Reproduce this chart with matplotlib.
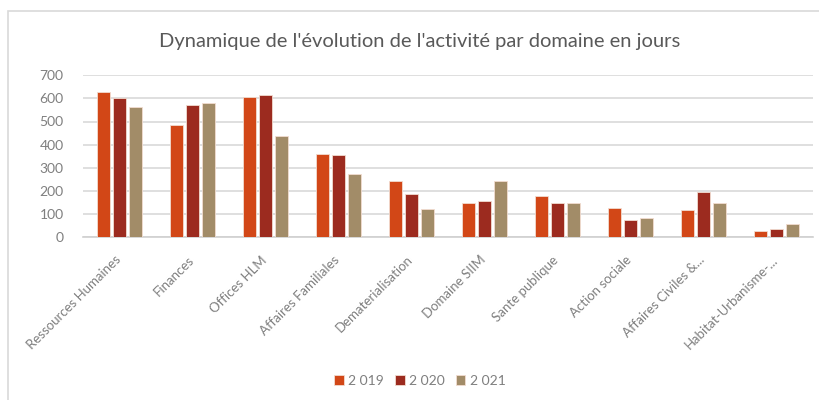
import matplotlib
matplotlib.use("Agg")
import matplotlib.pyplot as plt
import matplotlib.transforms as mtransforms
import numpy as np
from matplotlib.patches import Rectangle

categories = ["Ressources Humaines", "Finances", "Offices HLM", "Affaires Familiales",
              "Dematerialisation", "Domaine SIIM", "Sante publique", "Action sociale",
              "Affaires Civiles &...", "Habitat-Urbanisme-..."]
v2019 = [628, 483, 607, 360, 242, 148, 177, 127, 115, 26]
v2020 = [602, 571, 615, 357, 184, 158, 148, 72, 195, 33]
v2021 = [562, 579, 437, 272, 120, 242, 148, 81, 148, 58]
series_names = ["2 019", "2 020", "2 021"]
colors = ["#D24717", "#9C2B1F", "#A28C68"]
yticks = [0, 100, 200, 300, 400, 500, 600, 700]

plt.rcParams['font.family'] = ['Lato', 'DejaVu Sans']
grey = "#7F7F7F"

fig = plt.figure(figsize=(8.2, 4.0), dpi=100)
fig.patch.set_facecolor("white")
# chart frame
fig.patches.append(Rectangle((8/820, -0.1), 1.2, 1 - 11/400 + 0.1, transform=fig.transFigure,
                             fill=False, edgecolor="#D9D9D9", linewidth=1.2))

ax = fig.add_axes([83/820, 1 - 237/400, 730/820, (237 - 75.3)/400])
x = np.arange(len(categories))
w = 0.165
step = 0.219
for i, (vals, c, n) in enumerate(zip([v2019, v2020, v2021], colors, series_names)):
    ax.bar(x + (i - 1) * step, vals, width=w, color=c, edgecolor="#F2DCD0", linewidth=0.6,
           label=n, zorder=3)

ax.set_xlim(-0.5, len(categories) - 0.5)
ax.set_ylim(0, 700)
ax.set_yticks(yticks)
ax.set_yticklabels([str(t) for t in yticks])
ax.yaxis.grid(True, color="#D9D9D9", linewidth=1.2, zorder=0)
ax.set_axisbelow(True)
for s in ["top", "right", "left"]:
    ax.spines[s].set_visible(False)
ax.spines["bottom"].set_color("#D0D0D0")
ax.spines["bottom"].set_linewidth(1.2)
ax.tick_params(axis="y", length=0, colors=grey, labelsize=10, pad=14)
ax.tick_params(axis="x", length=0, colors=grey, labelsize=9.5, pad=12)
ax.set_xticks(x)
ax.set_xticklabels(categories, rotation=45, ha="right", rotation_mode="anchor")
offset = mtransforms.ScaledTranslation(-5/100, 0, fig.dpi_scale_trans)
for lab in ax.get_xticklabels():
    lab.set_transform(lab.get_transform() + offset)

fig.text(0.512, 1 - 42/400, "Dynamique de l'évolution de l'activité par domaine en jours",
         ha="center", va="center", fontsize=14.5, color="#595959")

fig.legend(loc="center", bbox_to_anchor=(0.512, 1 - 381/400), ncol=3, frameon=False,
           fontsize=10, labelcolor=grey, handlelength=0.7, handleheight=0.7,
           handletextpad=0.3, columnspacing=0.8)

fig.savefig("out.png", dpi=100, facecolor="white")
